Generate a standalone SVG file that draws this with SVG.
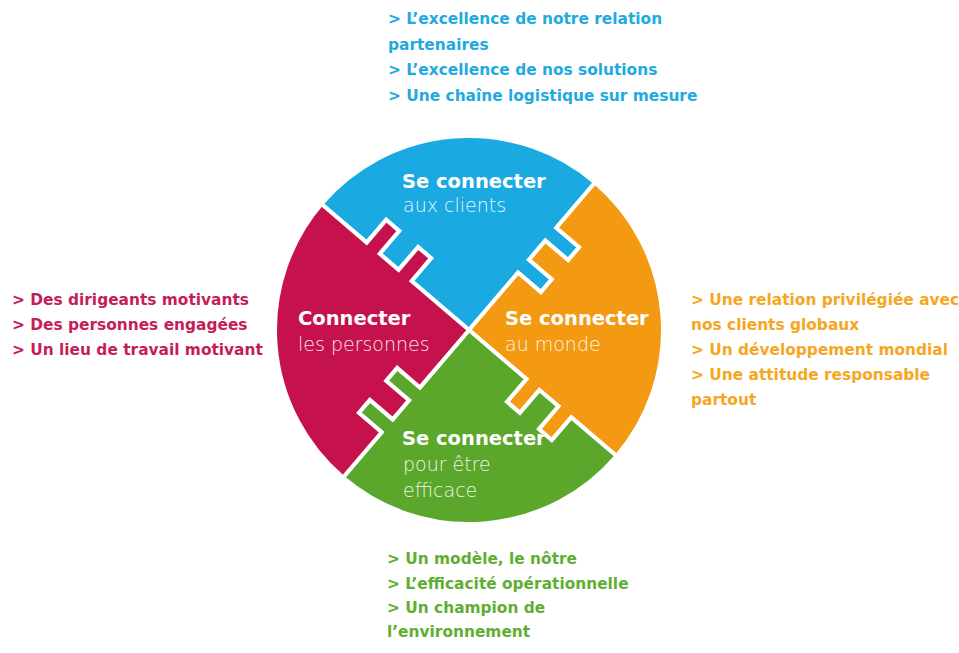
<svg xmlns="http://www.w3.org/2000/svg" xmlns:xlink="http://www.w3.org/1999/xlink" width="959" height="653" viewBox="0 0 959 653">
<style>
.h{font-family:"DejaVu Sans",sans-serif;font-weight:bold;font-size:19.5px;fill:#fff}
.s{font-family:"DejaVu Sans",sans-serif;font-weight:300;font-size:19px;fill:#fff;fill-opacity:0.92}
.l{font-family:"DejaVu Sans",sans-serif;font-weight:bold;font-size:15.4px}
.pc{stroke:#fff;stroke-width:4;stroke-linejoin:miter}
</style>
<defs>
<path id="piece" d="M0,0 L53.39,-53.39 L74.60,-32.18 L86.62,-44.20 L65.41,-65.41 L83.09,-83.09 L104.30,-61.88 L116.32,-73.90 L95.11,-95.11 L137.18,-137.18 A194,194 0 0 0 -137.18,-137.18 L-95.11,-95.11 L-73.90,-116.32 L-61.88,-104.30 L-83.09,-83.09 L-65.41,-65.41 L-44.20,-86.62 L-32.18,-74.60 L-53.39,-53.39 Z"/>
</defs>
<rect width="959" height="653" fill="#fff"/>
<g id="node-clients">
<use xlink:href="#piece" class="pc" fill="#1BA9E1" transform="translate(469 330) rotate(-4.5)"/>
<text class="h" x="402" y="188">Se connecter</text>
<text class="s" x="403" y="212">aux clients</text>
</g>
<g id="node-monde">
<use xlink:href="#piece" class="pc" fill="#F39A12" transform="translate(469 330) rotate(85.5)"/>
<text class="h" x="505" y="325">Se connecter</text>
<text class="s" x="505" y="351">au monde</text>
</g>
<g id="node-efficace">
<use xlink:href="#piece" class="pc" fill="#5BA72C" transform="translate(469 330) rotate(175.5)"/>
<text class="h" x="402" y="445">Se connecter</text>
<text class="s" x="403" y="471">pour être</text>
<text class="s" x="403" y="497">efficace</text>
</g>
<g id="node-personnes">
<use xlink:href="#piece" class="pc" fill="#C5124D" transform="translate(469 330) rotate(265.5)"/>
<text class="h" x="298" y="325">Connecter</text>
<text class="s" x="298" y="351">les personnes</text>
</g>
<g id="list-clients" class="l" fill="#22AAE0">
<text x="388" y="24">&gt; L’excellence de notre relation</text>
<text x="388" y="50">partenaires</text>
<text x="388" y="75">&gt; L’excellence de nos solutions</text>
<text x="388" y="101">&gt; Une chaîne logistique sur mesure</text>
</g>
<g id="list-personnes" class="l" fill="#C41E5A">
<text x="12" y="305">&gt; Des dirigeants motivants</text>
<text x="12" y="330">&gt; Des personnes engagées</text>
<text x="12" y="355">&gt; Un lieu de travail motivant</text>
</g>
<g id="list-monde" class="l" fill="#F5A623">
<text x="691" y="305">&gt; Une relation privilégiée avec</text>
<text x="691" y="330">nos clients globaux</text>
<text x="691" y="355">&gt; Un développement mondial</text>
<text x="691" y="380">&gt; Une attitude responsable</text>
<text x="691" y="405">partout</text>
</g>
<g id="list-efficace" class="l" fill="#5FAE32">
<text x="387" y="564">&gt; Un modèle, le nôtre</text>
<text x="387" y="589">&gt; L’efficacité opérationnelle</text>
<text x="387" y="613">&gt; Un champion de</text>
<text x="387" y="637">l’environnement</text>
</g>
</svg>
